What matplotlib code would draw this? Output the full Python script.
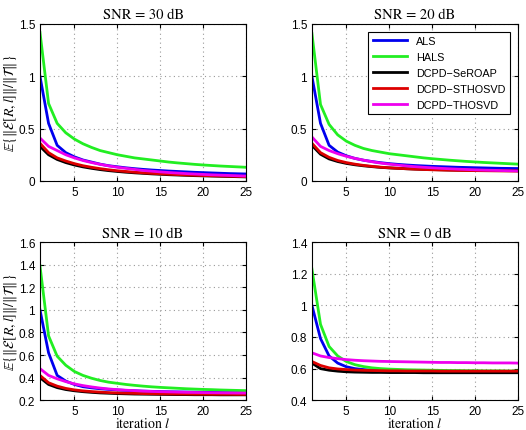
import numpy as np
import matplotlib
matplotlib.use("Agg")
import matplotlib.pyplot as plt

plt.rcParams['mathtext.fontset'] = 'stix'
plt.rcParams['font.family'] = ['Liberation Sans', 'DejaVu Sans']

iters = np.arange(1, 26)
names = ['ALS', 'HALS', 'DCPD\u2212SeROAP', 'DCPD\u2212STHOSVD', 'DCPD\u2212THOSVD']
colors = ['#0000ee', '#22ee22', '#000000', '#dd0000', '#ee00ee']
titles = ['SNR = 30 dB', 'SNR = 20 dB', 'SNR = 10 dB', 'SNR = 0 dB']

# SNR = 30 dB
als_30 = [1.0, 0.55, 0.34, 0.27, 0.23, 0.2, 0.18, 0.16, 0.145, 0.135, 0.125, 0.117, 0.11,
          0.104, 0.099, 0.094, 0.09, 0.086, 0.082, 0.079, 0.076, 0.073, 0.07, 0.068, 0.066]
hals_30 = [1.42, 0.74, 0.55, 0.46, 0.40, 0.355, 0.32, 0.29, 0.27, 0.25, 0.235, 0.22, 0.21,
           0.20, 0.19, 0.18, 0.172, 0.165, 0.158, 0.152, 0.147, 0.142, 0.138, 0.134, 0.13]
seroap_30 = [0.33, 0.25, 0.205, 0.175, 0.152, 0.134, 0.12, 0.108, 0.098, 0.09, 0.083, 0.077, 0.072,
             0.067, 0.063, 0.059, 0.056, 0.053, 0.05, 0.048, 0.046, 0.044, 0.042, 0.04, 0.038]
sthosvd_30 = [0.36, 0.27, 0.22, 0.19, 0.165, 0.145, 0.13, 0.117, 0.106, 0.097, 0.09, 0.083, 0.077,
              0.072, 0.068, 0.064, 0.06, 0.057, 0.054, 0.051, 0.049, 0.047, 0.045, 0.043, 0.041]
thosvd_30 = [0.41, 0.33, 0.29, 0.25, 0.22, 0.195, 0.175, 0.158, 0.143, 0.13, 0.12, 0.11, 0.1,
             0.093, 0.086, 0.08, 0.075, 0.07, 0.066, 0.062, 0.058, 0.055, 0.052, 0.049, 0.046]

# SNR = 20 dB
als_20 = [1.0, 0.55, 0.34, 0.275, 0.24, 0.215, 0.198, 0.185, 0.174, 0.165, 0.158, 0.152, 0.147,
          0.143, 0.139, 0.136, 0.133, 0.13, 0.128, 0.126, 0.124, 0.122, 0.12, 0.119, 0.118]
hals_20 = [1.41, 0.73, 0.54, 0.44, 0.38, 0.34, 0.31, 0.29, 0.275, 0.26, 0.25, 0.24, 0.23,
           0.22, 0.212, 0.205, 0.198, 0.192, 0.186, 0.181, 0.176, 0.172, 0.168, 0.164, 0.16]
seroap_20 = [0.34, 0.255, 0.21, 0.185, 0.167, 0.154, 0.144, 0.136, 0.129, 0.124, 0.12, 0.116, 0.113,
             0.11, 0.108, 0.106, 0.104, 0.103, 0.102, 0.101, 0.1, 0.1, 0.099, 0.099, 0.098]
sthosvd_20 = [0.36, 0.27, 0.225, 0.195, 0.175, 0.16, 0.148, 0.139, 0.131, 0.125, 0.12, 0.116, 0.112,
              0.109, 0.106, 0.104, 0.102, 0.1, 0.099, 0.098, 0.097, 0.096, 0.095, 0.094, 0.093]
thosvd_20 = [0.42, 0.33, 0.29, 0.26, 0.235, 0.215, 0.198, 0.183, 0.17, 0.16, 0.151, 0.143, 0.136,
             0.13, 0.125, 0.12, 0.116, 0.112, 0.109, 0.106, 0.103, 0.101, 0.099, 0.097, 0.095]

# SNR = 10 dB
als_10 = [1.0, 0.62, 0.42, 0.37, 0.34, 0.32, 0.31, 0.302, 0.296, 0.291, 0.287, 0.284, 0.281,
          0.279, 0.277, 0.275, 0.274, 0.273, 0.272, 0.271, 0.27, 0.269, 0.268, 0.268, 0.267]
hals_10 = [1.39, 0.77, 0.59, 0.51, 0.455, 0.42, 0.395, 0.375, 0.36, 0.35, 0.34, 0.332, 0.325,
           0.319, 0.314, 0.31, 0.306, 0.302, 0.299, 0.296, 0.294, 0.291, 0.289, 0.287, 0.285]
seroap_10 = [0.40, 0.34, 0.312, 0.295, 0.284, 0.276, 0.27, 0.265, 0.262, 0.259, 0.257, 0.255, 0.254,
             0.253, 0.252, 0.251, 0.25, 0.25, 0.249, 0.249, 0.249, 0.248, 0.248, 0.248, 0.248]
sthosvd_10 = [0.42, 0.355, 0.325, 0.305, 0.292, 0.283, 0.277, 0.272, 0.268, 0.265, 0.263, 0.261, 0.259,
              0.258, 0.257, 0.256, 0.255, 0.255, 0.254, 0.254, 0.253, 0.253, 0.253, 0.252, 0.252]
thosvd_10 = [0.48, 0.42, 0.39, 0.365, 0.345, 0.33, 0.318, 0.308, 0.3, 0.294, 0.289, 0.285, 0.281,
             0.278, 0.276, 0.274, 0.272, 0.27, 0.269, 0.268, 0.267, 0.266, 0.265, 0.264, 0.264]

# SNR = 0 dB
als_0 = [1.0, 0.79, 0.68, 0.635, 0.612, 0.6, 0.594, 0.59, 0.588, 0.586, 0.585, 0.584, 0.583,
         0.583, 0.582, 0.582, 0.582, 0.581, 0.581, 0.581, 0.581, 0.58, 0.58, 0.58, 0.58]
hals_0 = [1.23, 0.88, 0.74, 0.68, 0.645, 0.625, 0.613, 0.605, 0.6, 0.597, 0.595, 0.593, 0.592,
          0.591, 0.59, 0.589, 0.588, 0.588, 0.587, 0.587, 0.586, 0.586, 0.586, 0.585, 0.585]
seroap_0 = [0.635, 0.6, 0.59, 0.584, 0.58, 0.578, 0.577, 0.576, 0.576, 0.575, 0.575, 0.575, 0.575,
            0.574, 0.574, 0.574, 0.574, 0.574, 0.574, 0.574, 0.574, 0.574, 0.574, 0.574, 0.574]
sthosvd_0 = [0.645, 0.62, 0.605, 0.598, 0.594, 0.591, 0.589, 0.588, 0.587, 0.586, 0.586, 0.585, 0.585,
             0.585, 0.585, 0.584, 0.584, 0.584, 0.584, 0.584, 0.584, 0.584, 0.584, 0.584, 0.584]
thosvd_0 = [0.70, 0.68, 0.67, 0.663, 0.657, 0.653, 0.65, 0.648, 0.646, 0.645, 0.644, 0.643, 0.642,
            0.641, 0.64, 0.639, 0.639, 0.638, 0.638, 0.637, 0.637, 0.636, 0.636, 0.636, 0.635]

panels = [
    [als_30, hals_30, seroap_30, sthosvd_30, thosvd_30],
    [als_20, hals_20, seroap_20, sthosvd_20, thosvd_20],
    [als_10, hals_10, seroap_10, sthosvd_10, thosvd_10],
    [als_0, hals_0, seroap_0, sthosvd_0, thosvd_0],
]
ylims = [(0, 1.5), (0, 1.5), (0.2, 1.6), (0.4, 1.4)]
yticks = [[0, 0.5, 1, 1.5], [0, 0.5, 1, 1.5],
          [0.2, 0.4, 0.6, 0.8, 1, 1.2, 1.4, 1.6], [0.4, 0.6, 0.8, 1, 1.2, 1.4]]

fig = plt.figure(figsize=(5.26, 4.31), dpi=100)
rects = [[0.076, 0.578, 0.392, 0.364], [0.593, 0.578, 0.392, 0.364],
         [0.076, 0.069, 0.392, 0.367], [0.593, 0.069, 0.392, 0.367]]

ylabel = r'$\mathbb{E}\{\|\boldsymbol{\mathcal{E}}[R,l]\|/\|\boldsymbol{\mathcal{T}}\|\}$'

for k in range(4):
    ax = fig.add_axes(rects[k])
    for series, name, c in zip(panels[k], names, colors):
        ax.plot(iters, series, color=c, linewidth=2, label=name)
    ax.set_xlim(1, 25)
    ax.set_ylim(*ylims[k])
    ax.set_xticks([5, 10, 15, 20, 25])
    ax.set_yticks(yticks[k])
    ax.set_yticklabels(['%g' % t for t in yticks[k]])
    ax.tick_params(direction='in', labelsize=8.5, length=3, top=True, right=True)
    ax.grid(True, linestyle=(0, (1, 3)), color='#999999', linewidth=0.8)
    ax.set_title(titles[k], fontsize=10.5, family='STIXGeneral', pad=4)
    for s in ax.spines.values():
        s.set_linewidth(0.8)
    if k in (0, 2):
        ax.set_ylabel(ylabel, fontsize=10, labelpad=0)
    if k in (2, 3):
        ax.set_xlabel(r'iteration $l$', fontsize=10, family='STIXGeneral', labelpad=-1)
    if k == 1:
        leg = ax.legend(loc='upper right', fontsize=7.8, fancybox=False, framealpha=1,
                        edgecolor='black', handlelength=3.2, borderaxespad=0.0,
                        labelspacing=0.55, bbox_to_anchor=(0.96, 0.95))
        leg.get_frame().set_linewidth(0.8)

fig.savefig('out.png', dpi=100)
